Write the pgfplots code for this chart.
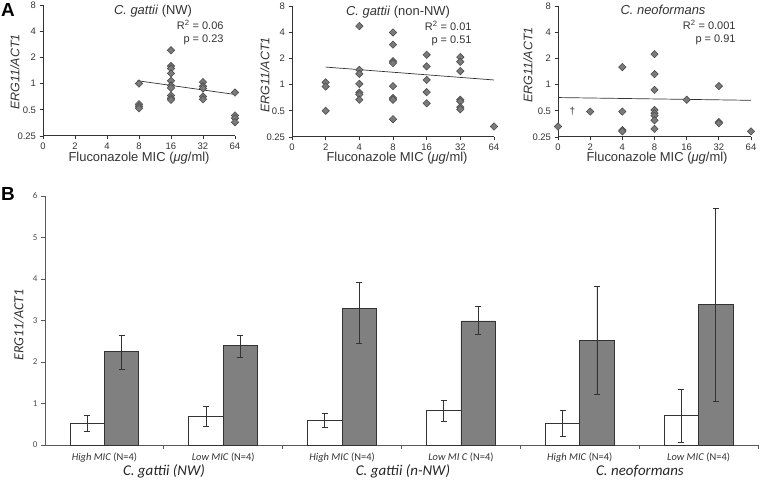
\documentclass[border=0pt]{standalone}
\usepackage{fontspec}
\setmainfont{Liberation Sans}
\newfontfamily\calibri{Carlito}
\usepackage{pgfplots}
\usepackage{pgfplotstable}
\pgfplotsset{compat=1.18}
\definecolor{mkfill}{HTML}{7A7A7A}
\definecolor{mkedge}{HTML}{4D4D4D}
\definecolor{axgray}{HTML}{333333}
\definecolor{bargray}{HTML}{808080}

\pgfplotsset{
  topax/.style={
    scale only axis, height=131bp,
    xmin=0, xmax=6, ymin=0.25, ymax=8,
    xtick={0,1,2,3,4,5,6}, xticklabels={0,2,4,8,16,32,64},
    ytick={0.25,0.5,1,2,4,8}, yticklabels={0.25,0.5,1,2,4,8},
    axis x line*=bottom, axis y line*=left,
    axis line style={-, axgray, line width=1pt},
    tick style={axgray, line width=0.9pt},
    tick align=outside, major tick length=3.5bp,
    ticklabel style={font=\fontsize{9.5}{10}\selectfont, text=axgray},
    clip=false,
  },
  scat/.style={only marks, mark=square*, mark size=2.6bp,
    mark options={rotate=45, fill=mkfill, draw=mkedge, line width=0.6pt}},
  fitl/.style={black!80, line width=0.7pt, no marks},
}

\pgfplotstableread{
x y
3 1.00
3 0.58
3 0.55
3 0.52
4 2.41
4 1.59
4 1.49
4 1.31
4 1.08
4 0.95
4 0.89
4 0.73
4 0.68
4 0.65
5 1.04
5 0.93
5 0.88
5 0.71
5 0.66
6 0.79
6 0.43
6 0.40
6 0.36
}\nwdata

\pgfplotstableread{
x y
1 1.06
1 0.95
1 0.50
2 4.70
2 1.48
2 1.33
2 1.02
2 0.81
2 0.77
2 0.67
3 3.97
3 2.88
3 1.86
3 1.77
3 0.96
3 0.70
3 0.67
3 0.40
4 2.20
4 1.62
4 1.13
4 0.82
4 0.61
5 2.07
5 1.83
5 1.43
5 0.67
5 0.64
5 0.55
5 0.52
6 0.33
}\nnwdata

\pgfplotstableread{
x y
0 0.33
1 0.49
2 1.59
2 0.49
2 0.30
2 0.29
3 2.24
3 1.32
3 0.87
3 0.51
3 0.47
3 0.44
3 0.39
3 0.31
4 0.67
5 0.96
5 0.37
5 0.36
6 0.29
}\neodata

\pgfplotstableread{
x y ep em
0.355 0.52 0.20 0.20
1.355 0.70 0.22 0.24
2.355 0.60 0.15 0.18
3.355 0.84 0.24 0.27
4.355 0.52 0.32 0.32
5.355 0.71 0.62 0.65
}\whitebars

\pgfplotstableread{
x y ep em
0.645 2.25 0.38 0.42
1.645 2.39 0.24 0.29
2.645 3.30 0.61 0.85
3.645 2.99 0.34 0.32
4.645 2.52 1.30 1.31
5.645 3.39 2.31 2.33
}\graybars

\begin{document}
\begin{tikzpicture}
\useasboundingbox (0,0) rectangle (760bp,483bp);

% ---------- Panel A1 ----------
\begin{axis}[topax, width=192bp, ymode=log, log basis y=2, at={(43bp,347bp)}, anchor=south west]
\addplot[scat] table[x=x,y=y]{\nwdata};
\addplot[fitl] coordinates {(2.95,1.08) (6,0.75)};
\end{axis}

% ---------- Panel A2 ----------
\begin{axis}[topax, width=202bp, ymode=log, log basis y=2, at={(292bp,346bp)}, anchor=south west]
\addplot[scat] table[x=x,y=y]{\nnwdata};
\addplot[fitl] coordinates {(1,1.59) (6,1.13)};
\end{axis}

% ---------- Panel A3 ----------
\begin{axis}[topax, width=193bp, ymode=log, log basis y=2, at={(558bp,346bp)}, anchor=south west]
\addplot[scat] table[x=x,y=y]{\neodata};
\addplot[fitl] coordinates {(0,0.71) (6,0.66)};
\node[font=\fontsize{10}{11}\selectfont, text=axgray] at (axis cs:0.45,0.5) {†};
\end{axis}

% texts panel A
\node[font=\fontsize{19}{20}\selectfont\bfseries] at (8bp,473bp) {A};
\node[font=\fontsize{13}{14}\selectfont, text=axgray] at (153bp,472bp) {\textit{C. gattii} (NW)};
\node[font=\fontsize{13}{14}\selectfont, text=axgray] at (398bp,471bp) {\textit{C. gattii} (non-NW)};
\node[font=\fontsize{13}{14}\selectfont, text=axgray] at (663bp,473bp) {\textit{C. neoformans}};
\node[font=\fontsize{11}{12}\selectfont, text=axgray, anchor=east] at (227bp,458bp) {R\textsuperscript{2} = 0.06};
\node[font=\fontsize{11}{12}\selectfont, text=axgray, anchor=east] at (227bp,443bp) {p = 0.23};
\node[font=\fontsize{11}{12}\selectfont, text=axgray, anchor=east] at (475bp,457bp) {R\textsuperscript{2} = 0.01};
\node[font=\fontsize{11}{12}\selectfont, text=axgray, anchor=east] at (475bp,442bp) {p = 0.51};
\node[font=\fontsize{11}{12}\selectfont, text=axgray, anchor=east] at (739bp,458bp) {R\textsuperscript{2} = 0.001};
\node[font=\fontsize{11}{12}\selectfont, text=axgray, anchor=east] at (739bp,443bp) {p = 0.91};
\node[rotate=90, font=\fontsize{12.5}{13}\selectfont\itshape, text=axgray] at (15bp,411bp) {ERG11/ACT1};
\node[rotate=90, font=\fontsize{12.5}{13}\selectfont\itshape, text=axgray] at (265bp,408bp) {ERG11/ACT1};
\node[rotate=90, font=\fontsize{12.5}{13}\selectfont\itshape, text=axgray] at (528bp,418bp) {ERG11/ACT1};
\node[font=\fontsize{13}{14}\selectfont, text=axgray] at (139bp,325bp) {Fluconazole MIC (\textit{μg}/ml)};
\node[font=\fontsize{13}{14}\selectfont, text=axgray] at (397bp,325bp) {Fluconazole MIC (\textit{μg}/ml)};
\node[font=\fontsize{13}{14}\selectfont, text=axgray] at (657bp,325bp) {Fluconazole MIC (\textit{μg}/ml)};

% ---------- Panel B ----------
\begin{axis}[scale only axis, width=713bp, height=249bp,
  at={(45bp,38bp)}, anchor=south west,
  xmin=0, xmax=6, ymin=0, ymax=6,
  ytick={0,1,2,3,4,5,6},
  xtick={0.5,1.5,2.5,3.5,4.5,5.5},
  xticklabels={{\textit{High MIC} (N=4)},{\textit{Low MIC} (N=4)},{\textit{High MIC} (N=4)},{\textit{Low MI C} (N=4)},{\textit{High MIC} (N=4)},{\textit{Low MIC} (N=4)}},
  minor xtick={1,2,3,4,5,6},
  major x tick style={draw=none},
  axis x line*=bottom, axis y line*=left,
  axis line style={-, black!65, line width=0.9pt},
  tick style={black!65, line width=0.8pt},
  tick align=outside, major tick length=4bp, minor tick length=4bp,
  yticklabel style={font=\calibri\fontsize{9}{10}\selectfont, text=black!70},
  xticklabel style={font=\calibri\fontsize{10.5}{11}\selectfont, text=black!80},
  /pgf/number format/assume math mode=true,
  clip=false]
\addplot[ybar, bar width=34.5bp, bar shift=0pt, fill=white, draw=black!80, line width=0.8pt,
  error bars/.cd, y dir=both, y explicit,
  error bar style={black!80, line width=0.8pt},
  error mark options={rotate=90, black!80, line width=0.8pt, mark size=3bp}]
  table[x=x, y=y, y error plus=ep, y error minus=em]{\whitebars};
\addplot[ybar, bar width=34.5bp, bar shift=0pt, fill=bargray, draw=black!80, line width=0.8pt,
  error bars/.cd, y dir=both, y explicit,
  error bar style={black!80, line width=0.8pt},
  error mark options={rotate=90, black!80, line width=0.8pt, mark size=3bp}]
  table[x=x, y=y, y error plus=ep, y error minus=em]{\graybars};
\end{axis}

\node[font=\fontsize{19}{20}\selectfont\bfseries] at (8bp,289bp) {B};
\node[rotate=90, font=\calibri\fontsize{14}{15}\selectfont\itshape, text=black!80] at (19bp,158bp) {ERG11/ACT1};
\node[font=\calibri\fontsize{15}{16}\selectfont\itshape, text=black!85] at (164bp,12bp) {C. gattii (NW)};
\node[font=\calibri\fontsize{15}{16}\selectfont\itshape, text=black!85] at (403bp,12bp) {C. gattii (n-NW)};
\node[font=\calibri\fontsize{15}{16}\selectfont\itshape, text=black!85] at (640bp,12bp) {C. neoformans};
\end{tikzpicture}
\end{document}
